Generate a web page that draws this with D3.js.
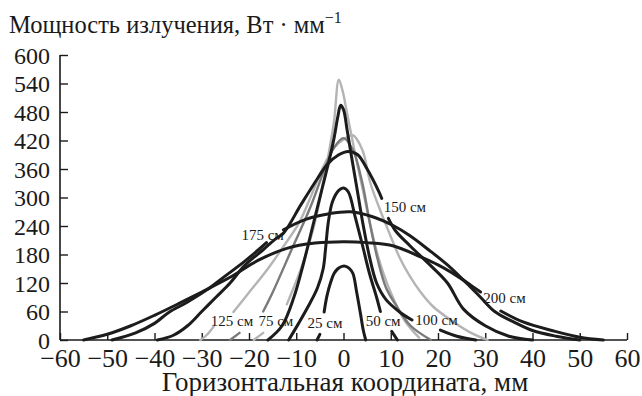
<!DOCTYPE html>
<html>
<head>
<meta charset="utf-8">
<script src="https://cdn.jsdelivr.net/npm/d3@7"></script>
<style>
  body { margin: 0; background: #fff; }
  svg text { font-family: "Liberation Serif", "Times New Roman", serif; fill: #1a1a1a; }
</style>
</head>
<body>
<svg width="642" height="396"></svg>
<script>
// ticks
let xTicks = [-60, -50, -40, -30, -20, -10, 0, 10, 20, 30, 40, 50, 60];
let yTicks = [0, 60, 120, 180, 240, 300, 360, 420, 480, 540, 600];

// curves: horizontal coordinate (mm) and power (W/mm); null = gap in the line
let c25x = [-5.6, -5.0, -4.6, -4.1, -3.5, -2.7, -2, -1.2, -0.3, 0.5, 1.3, 2, 2.8, 3.6, 4.2, 4.7];
let c25v = [0, 12, null, 59, 93, 122, 140, 150, 155, 155, 150, 140, 100, 55, 20, 0];

let c50x = [-11.6, -9.5, -7.4, -5.5, -4.3, -3.8, -3.2, -2.3, -1, 0, 1, 2.5, 4, 5.5, 7, 7.8, 9, 10.2, 11.4];
let c50v = [0, 35, 72, 110, 150, 192, 249, 292, 315, 320, 312, 258, 200, 140, 90, 60, null, 18, 0];

let c75x = [-16, -13, -10.5, -8.5, -6.5, -4.5, -3, -2, -1.2, -0.6, 0, 0.8, 1.8, 3, 4.2, 5.5, 7, 9, 12, 14.5, 17, 20.5, 24, 28];
let c75v = [0, 30, 90, 160, 240, 320, 380, 425, 470, 494, 485, 440, 380, 310, 240, 175, 120, 85, 58, 42, null, 21, 8, 0];

let c100x = [-19, -17, -14.5, -12, -9, -6.5, -4.5, -3, -2, -1, -0.2, 0.7, 1.5, 2.5, 4, 5.5, 7.5, 10, 13, 16];
let c100v = [0, 15, null, 75, 150, 230, 320, 400, 460, 548, 525, 480, 440, 390, 320, 250, 170, 100, 40, 5];

let c125x = [-24, -22, -19.5, -17, -15, -11, -7, -4, -2, 0, 2, 4, 5.5, 7.2, 9, 11, 14.2, 18.5];
let c125v = [0, 15, null, 60, 100, 190, 280, 360, 405, 425, 400, 330, 250, 171, 110, 75, 30, 0];

let cLx = [-30.3, -29, -27.5, -25, -23.3, -20, -16, -12.5, -9.5, -7, -4.5, -2, 0, 2, 4, 5.7, 7.5, 9.3, 12, 14, 16.3, 19, 23.3, 27, 30.5];
let cLv = [0, 10, 28, null, 59, 100, 150, 200, 245, 300, 360, 405, 422, 431, 400, 330, 280, 235, 171, 135, 101, 70, 38, 15, 0];

let c150x = [-39.4, -36, -33, -30, -27, -24, -21, -17, -14.5, -12.7, -9, -5.5, -3.4, -1, 1, 3, 5, 7.5, 8.1, 8.8, 9.5, 11, 14, 18.4, 22, 25.4, 30, 35, 40];
let c150v = [0, 10, 30, 60, 90, 120, 156, 190, 212, 225, 285, 340, 370, 390, 397, 390, 360, 312, 298, null, 256, 230, 199, 157, 120, 65, 30, 8, 0];

let c175x = [-49, -44, -40, -37, -33, -29, -25, -21, -18, -16.3, -14, -12.7, -8, -3, 1.5, 6, 10.5, 14, 18, 22, 26, 29, 32, 36, 40, 45, 50];
let c175v = [0, 15, 35, 58, 80, 105, 135, 165, 190, 205, null, 232, 254, 266, 270, 260, 241, 220, 190, 158, 120, 90, 60, 38, 20, 8, 0];

let c200x = [-55, -50, -45, -40, -35, -30, -24, -18, -12, -6, 0, 5, 10.6, 16.3, 20, 24, 27, 29, 31, 33.3, 38, 44.5, 50, 55];
let c200v = [0, 12, 30, 52, 76, 101, 132, 168, 193, 204, 207, 205, 198, 175, 158, 135, 115, 101, null, 61, 38, 19, 6, 0];

// distance labels and where they sit (data units, left edge / baseline)
let labelText = ["25 см", "50 см", "75 см", "100 см", "125 см", "150 см", "175 см", "200 см"];
let labelX = [-7.6, 4.7, -18, 15.2, -28.1, 8.5, -21.6, 29.6];
let labelV = [25, 29, 29, 32, 29, 269, 210, 78];

let series = [
    {x: cLx, v: cLv, color: "#b4b4b4", width: 2.4},
    {x: c100x, v: c100v, color: "#b4b4b4", width: 2.4},
    {x: c125x, v: c125v, color: "#7a7a7a", width: 2.4},
    {x: c200x, v: c200v, color: "#1c1c1c", width: 3},
    {x: c175x, v: c175v, color: "#1c1c1c", width: 3},
    {x: c150x, v: c150v, color: "#1c1c1c", width: 3},
    {x: c75x, v: c75v, color: "#1c1c1c", width: 3},
    {x: c50x, v: c50v, color: "#1c1c1c", width: 3},
    {x: c25x, v: c25v, color: "#1c1c1c", width: 3}
];

let svg = d3.select("svg");

let xScale = d3.scaleLinear().domain([-60, 60]).range([60, 627]);
let yScale = d3.scaleLinear().domain([0, 600]).range([340, 55]);

let genAxes = () => {
    let xAxis = d3.axisTop(xScale)
                    .tickValues(xTicks)
                    .tickSize(7)
                    .tickFormat(d3.format("d"));
    let gx = svg.append("g")
            .attr("transform", "translate(0, " + yScale(0) + ")")
            .call(xAxis);
    gx.select(".domain").attr("d", "M" + xScale(-60) + ",0H" + xScale(60)).attr("stroke", "#1a1a1a").attr("stroke-width", 1.6);
    gx.selectAll(".tick line").attr("stroke", "#1a1a1a").attr("stroke-width", 1.4);
    gx.selectAll(".tick text")
            .attr("y", 27)
            .attr("dy", 0)
            .attr("font-size", 26);

    let yAxis = d3.axisRight(yScale)
                    .tickValues(yTicks)
                    .tickSize(8);
    let gy = svg.append("g")
            .attr("transform", "translate(" + xScale(-60) + ", 0)")
            .call(yAxis);
    gy.select(".domain").attr("d", "M0," + yScale(0) + "V" + yScale(600)).attr("stroke", "#1a1a1a").attr("stroke-width", 1.6);
    gy.selectAll(".tick line").attr("stroke", "#1a1a1a").attr("stroke-width", 1.4);
    gy.selectAll(".tick text")
            .attr("x", -10)
            .attr("dy", "0.34em")
            .attr("text-anchor", "end")
            .attr("font-size", 24);
};

let curves = () => {
    let line = d3.line()
                .defined(d => d[1] !== null)
                .x(d => xScale(d[0]))
                .y(d => yScale(d[1]))
                .curve(d3.curveCatmullRom.alpha(0.5));
    svg.append("g")
        .selectAll("path")
        .data(series)
        .enter()
        .append("path")
        .attr("d", s => line(s.x.map((x, i) => [x, s.v[i]])))
        .attr("fill", "none")
        .attr("stroke", s => s.color)
        .attr("stroke-width", s => s.width)
        .attr("stroke-linecap", "round")
        .attr("stroke-linejoin", "round");

    svg.append("g")
        .selectAll("text")
        .data(labelText)
        .enter()
        .append("text")
        .attr("x", (t, i) => xScale(labelX[i]))
        .attr("y", (t, i) => yScale(labelV[i]))
        .attr("font-size", 15)
        .text(t => t);
};

let titles = () => {
    let t = svg.append("text")
            .attr("x", 9)
            .attr("y", 33)
            .attr("font-size", 24.5);
    t.append("tspan").text("Мощность излучения, Вт · мм");
    t.append("tspan").attr("dy", -10).attr("font-size", 16).text("−1");

    svg.append("text")
            .attr("x", 345)
            .attr("y", 391)
            .attr("text-anchor", "middle")
            .attr("font-size", 27)
            .text("Горизонтальная координата, мм");
};

genAxes();
curves();
titles();
</script>
</body>
</html>
